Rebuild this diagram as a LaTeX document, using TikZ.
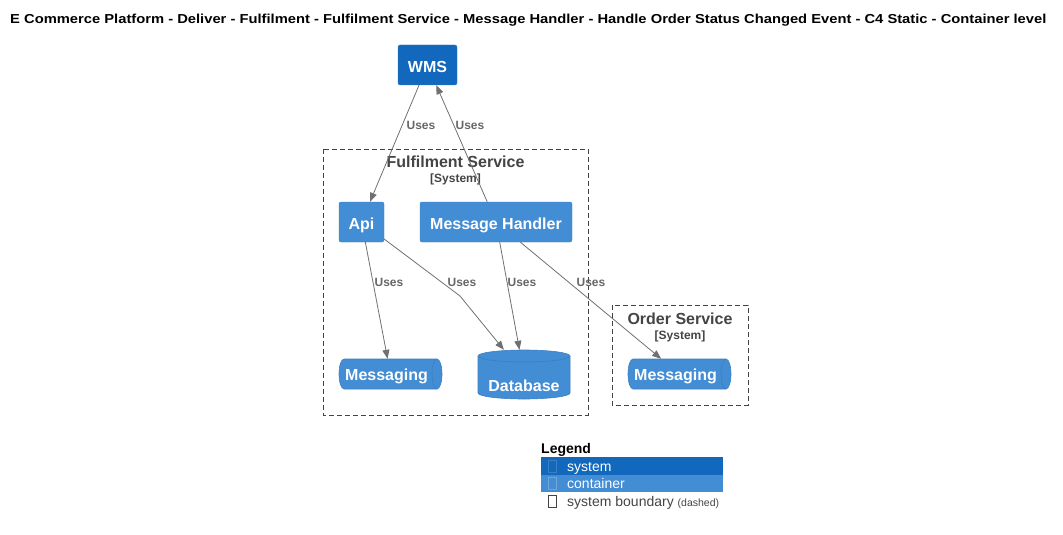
\documentclass[tikz,border=0pt]{standalone}
\usepackage{fontspec}
\setmainfont{Liberation Sans}
\newfontfamily\titlefont[FakeStretch=1.134]{Liberation Sans}
\usetikzlibrary{arrows.meta}
\definecolor{sysblue}{HTML}{1168BD}
\definecolor{sysedge}{HTML}{3C7FC0}
\definecolor{contblue}{HTML}{438DD5}
\definecolor{contedge}{HTML}{3C7FC0}
\definecolor{edgegray}{HTML}{707070}
\definecolor{lblgray}{HTML}{666666}
\definecolor{bndgray}{HTML}{444444}
\tikzset{
  sysbox/.style={fill=sysblue, draw=sysedge, rounded corners=2pt, text=white, inner sep=0pt,
    text height=15.5pt, text depth=0pt, font=\bfseries\fontsize{16}{18}\selectfont},
  contbox/.style={fill=contblue, draw=contedge, rounded corners=2pt, text=white, inner sep=0pt,
    text height=15.5pt, text depth=0pt, font=\bfseries\fontsize{16}{18}\selectfont},
  ghost/.style={draw=none, fill=none, inner sep=0pt, text=white, font=\bfseries\fontsize{16}{18}\selectfont},
  shapefill/.style={fill=contblue, draw=contedge, line width=0.6pt},
  rel/.style={draw=edgegray, line width=0.8pt, -{Triangle[length=9pt,width=7pt]}},
  relplain/.style={draw=edgegray, line width=0.8pt},
  lbl/.style={text=lblgray, font=\bfseries\fontsize{12}{14}\selectfont, inner sep=1pt},
  boundary/.style={draw=bndgray, line width=0.7pt, dash pattern=on 5pt off 3pt},
  bndtitle/.style={text=bndgray, font=\bfseries\fontsize{16}{18}\selectfont, inner sep=0pt},
  bndsub/.style={text=bndgray, font=\bfseries\fontsize{12}{14}\selectfont, inner sep=0pt},
  legtext/.style={anchor=base west, inner sep=0pt, font=\fontsize{14}{16}\selectfont},
  tofu/.style={draw, line width=0.5pt, minimum width=8pt, minimum height=12pt, inner sep=0pt}
}
\begin{document}
\begin{tikzpicture}[x=1pt,y=-1pt]
\useasboundingbox (0,0) rectangle (1063,535);

% title
\node[anchor=west, inner sep=0pt, font=\titlefont\bfseries\fontsize{13}{15}\selectfont] (title) at (10,20)
  {E Commerce Platform - Deliver - Fulfilment - Fulfilment Service - Message Handler - Handle Order Status Changed Event - C4 Static - Container level};

% boundaries
\draw[boundary] (323,149) rectangle (588,415);
\node[bndtitle] (fstitle) at (455.5,162) {Fulfilment Service};
\node[bndsub] (fssub) at (455.5,179.5) {[System]};
\draw[boundary] (612,305) rectangle (748,405);
\node[bndtitle] (ostitle) at (680,319) {Order Service};
\node[bndsub] (ossub) at (680,336.5) {[System]};

% WMS
\node[sysbox, minimum width=59pt, minimum height=40pt] (wms) at (427.5,65) {WMS};
% Api, Message Handler
\node[contbox, minimum width=45pt, minimum height=40pt] (api) at (361.5,222) {Api};
\node[contbox, minimum width=152pt, minimum height=40pt] (mh) at (496,222) {Message Handler};

% Messaging (left) queue
\path[shapefill] (344,359) -- (437,359) arc(-90:90:5 and 15) -- (344,389) arc(90:270:5 and 15) -- cycle;
\draw[contedge, line width=0.6pt] (437,359) arc(-90:-270:5 and 15);
\node[ghost, minimum width=103pt, minimum height=30pt] (mql) at (390.5,374) {};
\node[ghost, anchor=west] (mqltxt) at (345,376) {Messaging};

% Messaging (right) queue
\path[shapefill] (633,359) -- (726,359) arc(-90:90:5 and 15) -- (633,389) arc(90:270:5 and 15) -- cycle;
\draw[contedge, line width=0.6pt] (726,359) arc(-90:-270:5 and 15);
\node[ghost, minimum width=103pt, minimum height=30pt] (mqr) at (679.5,374) {};
\node[ghost, anchor=west] (mqrtxt) at (634,376) {Messaging};

% Database
\path[shapefill] (478,356) -- (478,393) arc(180:0:46 and 6) -- (570,356) arc(0:-180:46 and 6) -- cycle;
\draw[contedge, line width=0.6pt] (478,356) arc(180:0:46 and 6);
\node[ghost, minimum width=92pt, minimum height=49pt] (db) at (524,374.5) {};
\node[ghost] (dbtxt) at (524,386) {Database};

% connectors
\coordinate (bend) at (460,296);
\draw[rel] (wms) -- (api);
\draw[rel] (mh) -- (wms);
\draw[rel] (api) -- (mql);
\draw[relplain] (api) -- (bend);
\draw[rel] (bend) -- (db);
\draw[rel] (mh) -- (db);
\draw[rel] (mh) -- (mqr);

% labels
\node[lbl] (l1) at (421,125) {Uses};
\node[lbl] (l2) at (470,125) {Uses};
\node[lbl] (l3) at (389,282) {Uses};
\node[lbl] (l4) at (462,282) {Uses};
\node[lbl] (l5) at (522,282) {Uses};
\node[lbl] (l6) at (591,282) {Uses};

% legend
\node[anchor=west, inner sep=0pt, font=\bfseries\fontsize{14}{16}\selectfont] (legend) at (541,450) {Legend};
\fill[sysblue] (541,457) rectangle (723,474.5);
\fill[contblue] (541,474.5) rectangle (723,492);
\node[tofu, draw=contedge] (t1) at (552,466) {};
\node[legtext, text=white] (lg1) at (567,471) {system};
\node[tofu, draw=sysedge!70!white] (t2) at (552,483.5) {};
\node[legtext, text=white] (lg2) at (567,488.5) {container};
\node[tofu, draw=bndgray] (t3) at (552,501.5) {};
\node[legtext, text=bndgray] (lg3) at (567,506) {system boundary {\fontsize{10.5}{11}\selectfont(dashed)}};
\end{tikzpicture}
\end{document}
